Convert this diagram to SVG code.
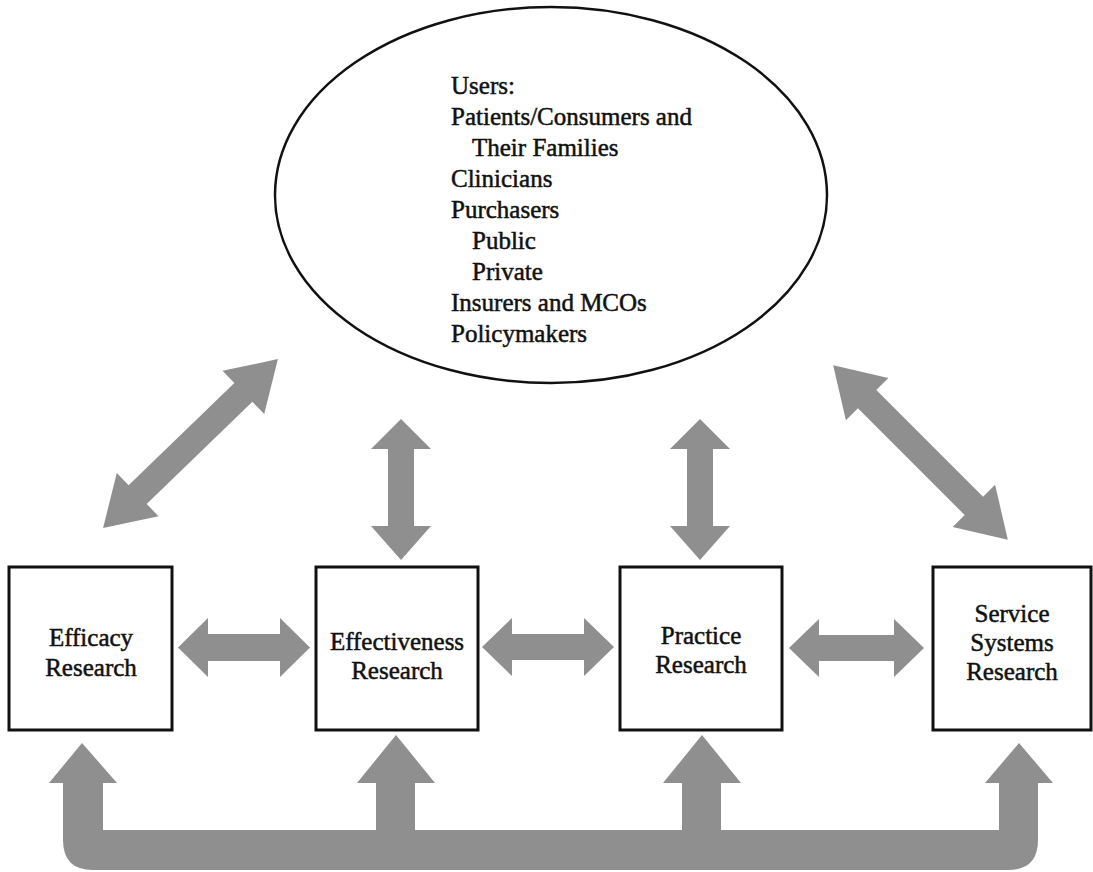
<svg xmlns="http://www.w3.org/2000/svg" width="1093" height="872" viewBox="0 0 1093 872">
<style>
.box{fill:#fff;stroke:#111;stroke-width:3}
.oval{fill:#fff;stroke:#111;stroke-width:2.5}
.t{font-family:"Liberation Serif","Times New Roman",serif;font-size:25px;fill:#111;stroke:#111;stroke-width:0.5}
.c{text-anchor:middle}
.arr{fill:#8f8f8f}
</style>
<rect width="1093" height="872" fill="#fff"/>
<g id="users">
<ellipse class="oval" cx="551" cy="195" rx="276" ry="188"/>
<text class="t" x="451" y="94">Users:</text>
<text class="t" x="451" y="125">Patients/Consumers and</text>
<text class="t" x="472" y="156">Their Families</text>
<text class="t" x="451" y="187">Clinicians</text>
<text class="t" x="451" y="218">Purchasers</text>
<text class="t" x="472" y="249">Public</text>
<text class="t" x="472" y="280">Private</text>
<text class="t" x="451" y="311">Insurers and MCOs</text>
<text class="t" x="451" y="342">Policymakers</text>
</g>
<g id="efficacy">
<rect class="box" x="9" y="567" width="163" height="163"/>
<text class="t c" x="91" y="646">Efficacy</text>
<text class="t c" x="91" y="676">Research</text>
</g>
<g id="effectiveness">
<rect class="box" x="316" y="567" width="162" height="163"/>
<text class="t c" x="397" y="650">Effectiveness</text>
<text class="t c" x="397" y="679">Research</text>
</g>
<g id="practice">
<rect class="box" x="620" y="567" width="162" height="163"/>
<text class="t c" x="701" y="644">Practice</text>
<text class="t c" x="701" y="673">Research</text>
</g>
<g id="service">
<rect class="box" x="933" y="567" width="158" height="163"/>
<text class="t c" x="1012" y="622">Service</text>
<text class="t c" x="1012" y="651">Systems</text>
<text class="t c" x="1012" y="680">Research</text>
</g>
<g id="connectors">
<polygon class="arr" transform="translate(190.5,443.5) rotate(-44)" points="-121.5,0 -73.5,-30 -73.5,-13 73.5,-13 73.5,-30 121.5,0 73.5,30 73.5,13 -73.5,13 -73.5,30"/>
<polygon class="arr" transform="translate(920.5,452.5) rotate(45)" points="-123.5,0 -75.5,-30 -75.5,-13 75.5,-13 75.5,-30 123.5,0 75.5,30 75.5,13 -75.5,13 -75.5,30"/>
<polygon class="arr" points="401,419 371,449 388,449 388,526 371,526 401,560 431,526 414,526 414,449 431,449"/>
<polygon class="arr" points="700,419 670,449 687,449 687,526 670,526 700,560 730,526 713,526 713,449 730,449"/>
<polygon class="arr" points="178,647.5 208,618 208,634 280,634 280,618 310,647.5 280,677 280,661 208,661 208,677"/>
<polygon class="arr" points="482,647 512,618 512,634 584,634 584,618 614,647 584,676 584,660 512,660 512,676"/>
<polygon class="arr" points="789,648 819,619 819,635 894,635 894,619 924,648 894,677 894,661 819,661 819,677"/>
<path class="arr" d="M 49 783 L 82 743 L 117 783 L 103 783 L 103 830 L 376 830 L 376 783 L 357 783 L 396 735 L 435 783 L 415 783 L 415 830 L 682 830 L 682 783 L 663 783 L 702 735 L 741 783 L 721 783 L 721 830 L 999 830 L 999 783 L 985 783 L 1019 743 L 1053 783 L 1038 783 L 1038 840 Q 1038 870 1008 870 L 93 870 Q 63 870 63 840 L 63 783 Z"/>
</g>
</svg>
